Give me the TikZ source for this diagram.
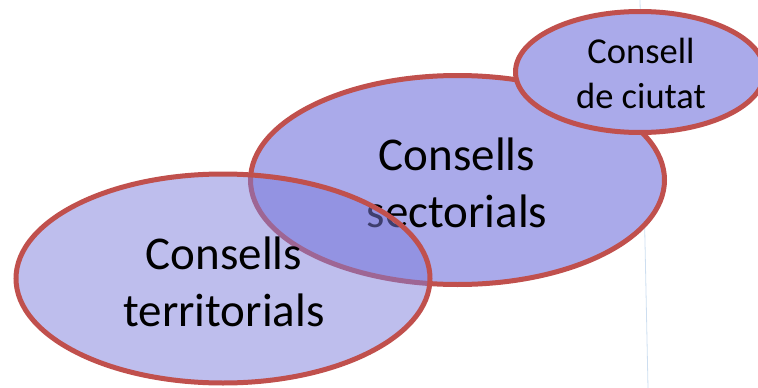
\documentclass[tikz,border=0pt]{standalone}
\usepackage{fontspec}
\setmainfont{Carlito}
\usepackage{xcolor}
\usepackage{tikz}

\definecolor{cellfill}{RGB}{170,170,234}
\definecolor{overfill}{RGB}{125,125,220}
\definecolor{cellline}{RGB}{192,80,77}
\definecolor{guideline}{RGB}{205,222,240}

\tikzset{
  consell/.style={draw=cellline, line width=5pt, fill=cellfill},
  bigtext/.style={align=center, font=\fontsize{47}{57}\selectfont},
  smalltext/.style={align=center, font=\fontsize{36.5}{45}\selectfont}
}

\begin{document}
\begin{tikzpicture}[x=1pt, y=-1pt]
            \useasboundingbox (0,0) rectangle (758,388);
            \clip (0,0) rectangle (758,388);

            \draw[guideline, line width=0.8pt] (640,0) -- (648,388); % faint guide

            \draw[consell] (457.5,180) ellipse (207 and 104.5); % sectorials
            \node[bigtext] (sectorials) at (457,183) {Consells\\sectorials};

            \draw[consell] (640,72) ellipse (124.5 and 60.5); % ciutat
            \node[smalltext] (ciutat) at (641,73) {Consell\\de ciutat};

            \draw[consell, fill=overfill, fill opacity=0.5] (223,278.5) ellipse (207 and 104.5); % territorials
            \node[bigtext] (territorials) at (224,282) {Consells\\territorials};
        \end{tikzpicture}
\end{document}
